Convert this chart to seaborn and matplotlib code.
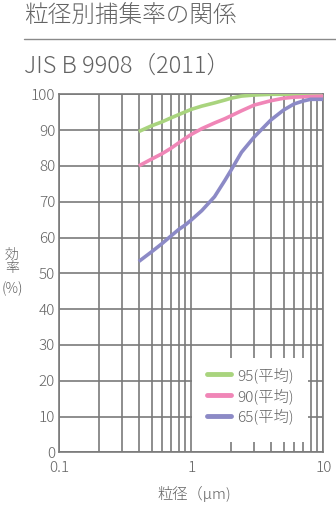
import matplotlib
matplotlib.use("Agg")
import matplotlib.pyplot as plt
import matplotlib.ticker as mticker
from matplotlib.lines import Line2D
from matplotlib.patches import Rectangle
import seaborn as sns
import pandas as pd

# ---- data ----
particle_um = [0.4, 0.5, 0.6, 0.7, 0.8, 0.9, 1.0, 1.2, 1.5, 1.8, 2.0, 2.4, 3.0, 4.0, 5.0, 6.0, 7.0, 8.0, 10.0]
eff_95 = [89.6, 91.2, 92.3, 93.4, 94.3, 95.1, 95.8, 96.7, 97.6, 98.4, 98.9, 99.5, 99.8, 100.0, 100.0, 100.0, 100.0, 100.0, 100.0]
eff_90 = [80.0, 81.9, 83.4, 84.9, 86.4, 87.7, 88.8, 90.4, 92.0, 93.2, 94.0, 95.4, 97.0, 98.2, 98.9, 99.2, 99.3, 99.4, 99.5]
eff_65 = [53.3, 56.0, 58.3, 60.4, 62.2, 63.5, 64.9, 67.5, 71.4, 76.0, 78.8, 83.8, 88.1, 92.8, 95.6, 97.3, 98.1, 98.6, 98.6]
series_labels = ["95(平均)", "90(平均)", "65(平均)"]
series_colors = ["#a9d47e", "#f086b7", "#8c8ac6"]
y_ticks = [0, 10, 20, 30, 40, 50, 60, 70, 80, 90, 100]
x_tick_vals = [0.1, 1, 10]
x_tick_labels = ["0.1", "1", "10"]

title = "粒径別捕集率の関係"
subtitle = "JIS B 9908（2011）"
x_label = "粒径（μm)"
y_label_top = "効\n率"
y_label_unit = "(%)"

df = pd.concat([
    pd.DataFrame({"x": particle_um, "y": vals, "series": lab})
    for vals, lab in zip([eff_95, eff_90, eff_65], series_labels)
])

sns.set_theme(style="white")
plt.rcParams["font.family"] = ["Noto Sans CJK JP", "DejaVu Sans"]
plt.rcParams["font.weight"] = "light"

txt = "#636363"
grid_c = "#7a7a7a"

W, H = 336, 514
fig = plt.figure(figsize=(W / 100, H / 100), dpi=100)
ax = fig.add_axes([59.3 / W, 61.7 / H, 264 / W, 358 / H])

sns.lineplot(data=df, x="x", y="y", hue="series", hue_order=series_labels,
             palette=series_colors, linewidth=2.6, ax=ax, legend=False,
             zorder=3, solid_capstyle="butt")

ax.set_xscale("log")
ax.set_xlim(0.1, 10)
ax.set_ylim(0, 100)
ax.set_yticks(y_ticks)
ax.set_xticks(x_tick_vals)
ax.set_xticklabels(x_tick_labels)
ax.xaxis.set_minor_locator(mticker.LogLocator(base=10, subs=range(2, 10)))
ax.xaxis.set_minor_formatter(mticker.NullFormatter())
ax.tick_params(which="both", length=0, colors=txt, labelsize=11)
ax.tick_params(axis="y", pad=3)
ax.tick_params(axis="x", pad=6)
ax.grid(True, which="both", axis="x", color=grid_c, linewidth=1.2)
ax.grid(True, which="major", axis="y", color=grid_c, linewidth=1.2)
for s in ax.spines.values():
    s.set_color(grid_c)
    s.set_linewidth(1.2)
ax.set_xlabel("")
ax.set_ylabel("")

# white box behind the legend (hides the grid there)
x0 = (192 - 59.3) / 264
x1 = (308 - 59.3) / 264
y0 = (452.3 - 442) / 358
y1 = (452.3 - 358) / 358
ax.add_patch(Rectangle((x0, y0), x1 - x0, y1 - y0, transform=ax.transAxes,
                       facecolor="white", edgecolor="none", zorder=4))

handles = [Line2D([0], [0], color=c, lw=3.5) for c in series_colors]
leg = ax.legend(handles, series_labels, loc="upper left",
                bbox_to_anchor=((207 - 59.3) / 264, (452.3 - 367) / 358),
                borderaxespad=0, borderpad=0, frameon=False, fontsize=11,
                handlelength=1.55, handletextpad=0.45, labelspacing=0.33)
for t in leg.get_texts():
    t.set_color(txt)
leg.set_zorder(5)

fig.text(24 / W, 1 - 16 / H, title, fontsize=17, color=txt, va="center", ha="left")
fig.add_artist(Line2D([24 / W, 1], [1 - 39.3 / H] * 2, color="#8a8a8a", lw=1.0))
fig.text(24 / W, 1 - 66 / H, subtitle, fontsize=17, color=txt, va="center", ha="left")
fig.text(194 / W, 1 - 494 / H, x_label, fontsize=11, color=txt, va="center", ha="center")
fig.text(12 / W, 1 - 261.5 / H, y_label_top, fontsize=10, color=txt, va="center",
         ha="center", linespacing=0.95)
fig.text(12 / W, 1 - 289 / H, y_label_unit, fontsize=10, color=txt, va="center",
         ha="center")

fig.savefig("out.png", dpi=100)
